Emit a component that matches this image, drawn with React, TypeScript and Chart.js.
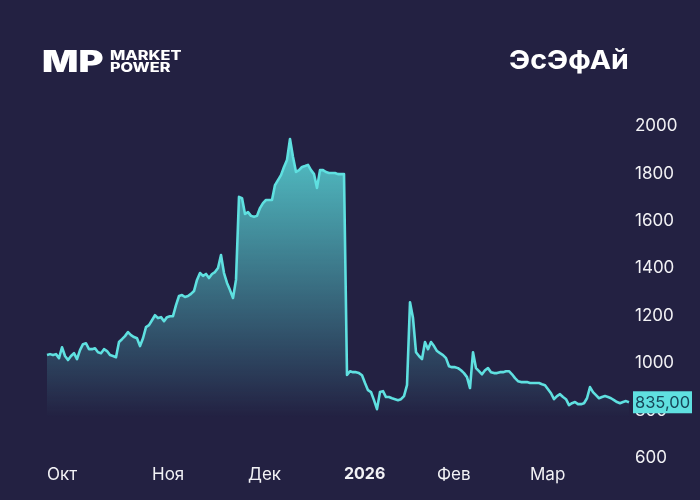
import { useEffect, useRef } from 'react';
import Chart from 'chart.js/auto';

const BG = '#232142';
const LINE = '#5fe0e0';
const FONT = 'Inter, sans-serif';

// one sample every few sessions, Oct -> Mar
const prices = [
  1034, 1038, 1034, 1038, 1021, 1067, 1030, 1013, 1030, 1042,
  1017, 1055, 1080, 1084, 1059, 1059, 1063, 1046, 1042, 1059,
  1051, 1034, 1030, 1025, 1089, 1101, 1114, 1131, 1118, 1110,
  1105, 1072, 1105, 1152, 1160, 1181, 1202, 1190, 1194, 1177,
  1194, 1198, 1198, 1245, 1283, 1287, 1279, 1283, 1292, 1304,
  1351, 1380, 1368, 1376, 1359, 1376, 1384, 1401, 1456, 1380,
  1338, 1308, 1275, 1351, 1701, 1696, 1629, 1637, 1621, 1617,
  1621, 1654, 1675, 1688, 1688, 1688, 1751, 1772, 1793, 1827,
  1857, 1945, 1869, 1806, 1814, 1827, 1831, 1836, 1814, 1797,
  1739, 1814, 1814, 1806, 1802, 1802, 1802, 1797, 1797, 1797,
  950, 966, 962, 962, 958, 949, 916, 886, 878, 844,
  806, 878, 882, 857, 857, 852, 848, 844, 848, 861,
  907, 1257, 1190, 1046, 1030, 1017, 1089, 1059, 1089, 1072,
  1051, 1042, 1034, 1021, 987, 983, 983, 979, 970, 958,
  941, 895, 1046, 979, 966, 953, 970, 979, 962, 958,
  958, 962, 962, 966, 966, 953, 937, 924, 920, 920,
  920, 916, 916, 916, 916, 911, 907, 890, 873, 848,
  861, 869, 857, 848, 823, 831, 836, 827, 827, 831,
  852, 899, 878, 865, 852, 857, 861, 857, 852, 844,
  836, 831, 836, 840, 835,
];

const monthNames = ['Окт', 'Ноя', 'Дек', '2026', 'Фев', 'Мар'];
const monthStarts = [0, 35, 67, 99, 130, 161];
const sessionCount = 196;

const labels = Array.from({ length: sessionCount }, (_, i) => {
  const m = monthStarts.indexOf(i);
  return m >= 0 ? monthNames[m] : '';
});

const lastPriceBadge = {
  id: 'lastPriceBadge',
  afterDraw(chart: any) {
    const { ctx, scales } = chart;
    const last = prices[prices.length - 1];
    const y = scales.y.getPixelForValue(last);
    ctx.save();
    ctx.fillStyle = LINE;
    ctx.fillRect(633, y - 11, 59, 22);
    ctx.fillStyle = '#17475a';
    ctx.font = `400 16.5px ${FONT}`;
    ctx.textBaseline = 'middle';
    ctx.textAlign = 'center';
    ctx.fillText(last.toFixed(2).replace('.', ','), 662.5, y + 1);
    ctx.restore();
  },
};

const App = () => {
  const canvasRef = useRef<HTMLCanvasElement | null>(null);

  useEffect(() => {
    if (!canvasRef.current) return;

    const chart = new Chart(canvasRef.current, {
      type: 'line',
      data: {
        labels,
        datasets: [
          {
            data: prices,
            borderColor: LINE,
            borderWidth: 2.6,
            borderJoinStyle: 'round',
            pointRadius: 0,
            tension: 0,
            fill: 'start',
            backgroundColor: (c: any) => {
              const { ctx, scales, chartArea } = c.chart;
              // not laid out yet on the first pass
              if (!chartArea) return 'transparent';
              const g = ctx.createLinearGradient(
                0,
                scales.y.getPixelForValue(1950),
                0,
                scales.y.getPixelForValue(770)
              );
              g.addColorStop(0, 'rgba(88,212,214,0.92)');
              g.addColorStop(1, 'rgba(88,212,214,0)');
              return g;
            },
          },
        ],
      },
      options: {
        responsive: false,
        animation: false,
        layout: { padding: { left: 47, top: 126 } },
        plugins: { legend: { display: false }, tooltip: { enabled: false } },
        scales: {
          x: {
            grid: { display: false, drawTicks: false },
            border: { display: false },
            afterFit: (s: any) => {
              s.height = 42;
            },
            ticks: {
              autoSkip: false,
              maxRotation: 0,
              align: 'start',
              padding: 7,
              color: '#f2f2f5',
              font: (c: any) => ({
                family: FONT,
                size: c.tick && c.tick.label === '2026' ? 16 : 17,
                weight: c.tick && c.tick.label === '2026' ? 'bold' : 'normal',
              }),
            },
          },
          y: {
            position: 'right',
            min: 600,
            max: 2000,
            grid: { display: false, drawTicks: false },
            border: { display: false },
            afterFit: (s: any) => {
              s.width = 68;
            },
            ticks: {
              stepSize: 200,
              padding: 3,
              color: '#f2f2f5',
              font: { family: FONT, size: 17 },
              callback: (v: any) => String(v),
            },
          },
        },
      },
      plugins: [lastPriceBadge],
    } as any);

    return () => chart.destroy();
  }, []);

  return (
    <div style={{ position: 'fixed', left: 0, top: 0, width: 700, height: 500, background: BG, overflow: 'hidden', fontFamily: FONT, color: '#fff' }}>
      <canvas ref={canvasRef} width={700} height={500} style={{ display: 'block' }} />
      <div style={{ position: 'absolute', left: 42, top: 43, fontSize: 30, lineHeight: '36px', fontWeight: 900, transform: 'scaleX(1.27)', transformOrigin: 'left' }}>MP</div>
      <div style={{ position: 'absolute', left: 110, top: 49, fontSize: 13, lineHeight: '12px', fontWeight: 800, transform: 'scaleX(1.25)', transformOrigin: 'left' }}>
        MARKET
        <br />
        POWER
      </div>
      <div style={{ position: 'absolute', left: 509, top: 44, fontSize: 26, lineHeight: '32px', fontWeight: 700, transform: 'scaleX(1.1)', transformOrigin: 'left', whiteSpace: 'nowrap' }}>ЭсЭфАй</div>
    </div>
  );
};

export default App;
